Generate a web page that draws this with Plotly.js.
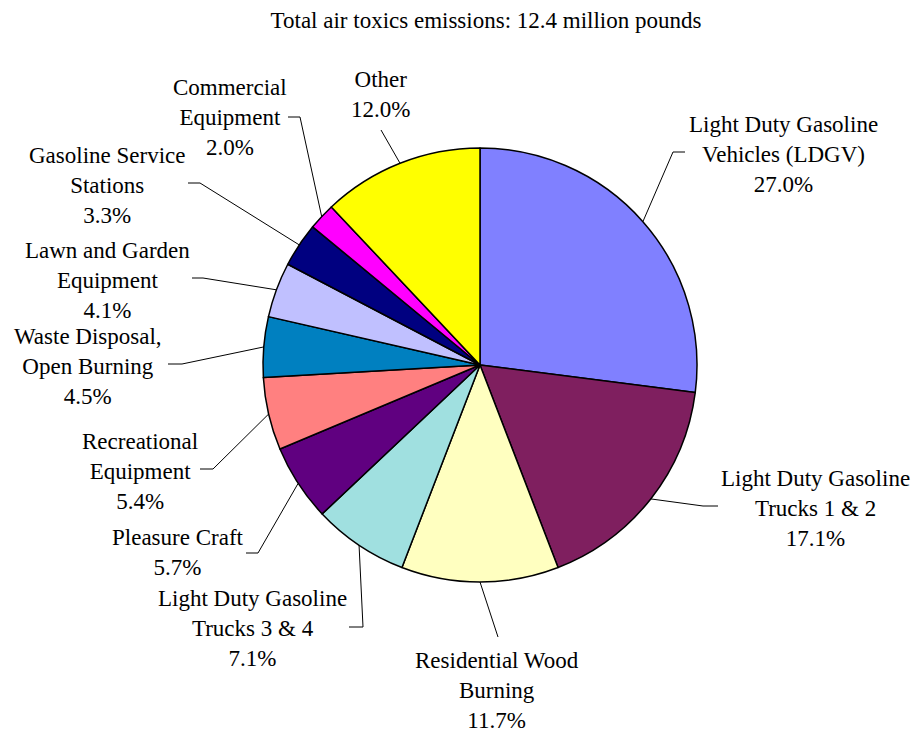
<!DOCTYPE html>
<html>
<head>
<meta charset="utf-8">
<script src="https://cdn.plot.ly/plotly-3.0.1.min.js"></script>
<style>
html,body{margin:0;padding:0;background:#fff;}
#chart{width:913px;height:732px;}
</style>
</head>
<body>
<div id="chart"></div>
<script>
// ---- data ----
const titleText = "Total air toxics emissions: 12.4 million pounds";
const categories = [
  "Light Duty Gasoline<br>Vehicles (LDGV)",
  "Light Duty Gasoline<br>Trucks 1 & 2",
  "Residential Wood<br>Burning",
  "Light Duty Gasoline<br>Trucks 3 & 4",
  "Pleasure Craft",
  "Recreational<br>Equipment",
  "Waste Disposal,<br>Open Burning",
  "Lawn and Garden<br>Equipment",
  "Gasoline Service<br>Stations",
  "Commercial<br>Equipment",
  "Other"
];
const shares = [27.0, 17.1, 11.7, 7.1, 5.7, 5.4, 4.5, 4.1, 3.3, 2.0, 12.0];
const colors = ["#8080FF", "#7F1F5F", "#FFFFC0", "#A0E0E0", "#600080", "#FF8080",
                "#0080C0", "#C0C0FF", "#000080", "#FF00FF", "#FFFF00"];

// ---- label layout (pixel positions of label blocks and leader-line elbows) ----
const labelCenter = [[783,155],[815,508],[497,690],[252,628],[178,552],[140,471],
                     [88,366],[107,280],[107,185],[230,117],[380,95]];
const elbow = [[673,152],[703,506],[498,637],[363,627],[258,553],[213,469],
               [182,364],[203,278],[200,183],[300,117],[381,130]];
const lineEnd = [[685,152],[718,506],null,[349,627],[246,553],[200,469],
                 [168,364],[192,278],[188,183],[288,117],null];

const W = 913, H = 732;
const cx = 480, cy = 365, R = 217;
const px = x => x / W;
const py = y => 1 - y / H;

const serifFamily = "Liberation Serif";
const fontSize = 23;

// leader lines, starting at each slice's mid-angle on the rim
const total = shares.reduce((a, b) => a + b, 0);
let cum = 0;
const shapes = [];
const annotations = [];
shares.forEach((v, i) => {
  const mid = (cum + v / 2) / total * 2 * Math.PI;
  cum += v;
  const sx = cx + R * Math.sin(mid), sy = cy - R * Math.cos(mid);
  let path = `M ${px(sx)},${py(sy)} L ${px(elbow[i][0])},${py(elbow[i][1])}`;
  if (lineEnd[i]) path += ` L ${px(lineEnd[i][0])},${py(lineEnd[i][1])}`;
  shapes.push({type: "path", xref: "paper", yref: "paper", path: path,
               line: {color: "#000", width: 1}});
  annotations.push({
    xref: "paper", yref: "paper", x: px(labelCenter[i][0]), y: py(labelCenter[i][1]),
    xanchor: "center", yanchor: "middle", showarrow: false, align: "center",
    text: categories[i] + "<br>" + v.toFixed(1) + "%",
    font: {family: serifFamily, size: fontSize, color: "#000"}
  });
});

const trace = {
  type: "pie",
  values: shares,
  labels: categories,
  sort: false,
  direction: "clockwise",
  rotation: 0,
  textinfo: "none",
  hoverinfo: "label+percent",
  showlegend: false,
  marker: {colors: colors, line: {color: "#000", width: 1.5}},
  domain: {x: [px(cx - R), px(cx + R)], y: [py(cy + R), py(cy - R)]}
};

const layout = {
  width: W, height: H,
  margin: {l: 0, r: 0, t: 0, b: 0},
  paper_bgcolor: "#fff",
  font: {family: serifFamily, size: fontSize, color: "#000"},
  title: {text: titleText, x: px(486), xref: "paper", y: py(20), yref: "paper",
          xanchor: "center", yanchor: "middle",
          font: {family: serifFamily, size: fontSize, color: "#000"}},
  shapes: shapes,
  annotations: annotations
};

Plotly.newPlot("chart", [trace], layout, {displayModeBar: false, staticPlot: true});
</script>
</body>
</html>
